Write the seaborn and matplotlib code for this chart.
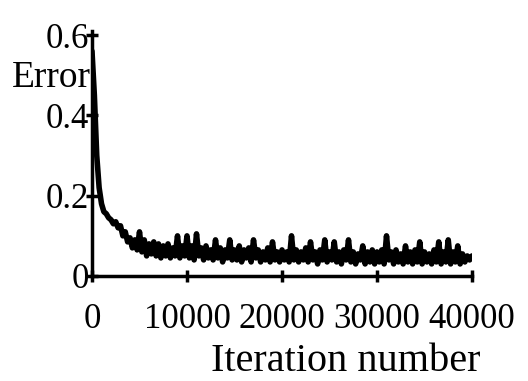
import numpy as np
import pandas as pd
import matplotlib
matplotlib.use("Agg")
import matplotlib.pyplot as plt
import seaborn as sns

step = 250
error = [
    0.56, 0.45, 0.30, 0.22, 0.18, 0.16, 0.155, 0.145, 0.14, 0.13,
    0.135, 0.12, 0.125, 0.10, 0.11, 0.085, 0.095, 0.07, 0.09, 0.065,
    0.11, 0.06, 0.09, 0.05, 0.08, 0.055, 0.085, 0.05, 0.08, 0.045,
    0.075, 0.05, 0.08, 0.045, 0.07, 0.05, 0.10, 0.045, 0.075, 0.05,
    0.10, 0.045, 0.075, 0.04, 0.105, 0.05, 0.07, 0.04, 0.075, 0.045,
    0.065, 0.04, 0.09, 0.045, 0.07, 0.035, 0.065, 0.045, 0.09, 0.04,
    0.065, 0.04, 0.075, 0.035, 0.065, 0.045, 0.07, 0.035, 0.09, 0.045,
    0.065, 0.035, 0.06, 0.04, 0.07, 0.035, 0.085, 0.04, 0.06, 0.035,
    0.065, 0.04, 0.06, 0.035, 0.10, 0.04, 0.065, 0.035, 0.06, 0.04,
    0.07, 0.035, 0.085, 0.04, 0.06, 0.03, 0.065, 0.04, 0.09, 0.035,
    0.06, 0.04, 0.085, 0.035, 0.06, 0.03, 0.065, 0.04, 0.09, 0.035,
    0.06, 0.03, 0.055, 0.04, 0.075, 0.03, 0.06, 0.035, 0.065, 0.03,
    0.06, 0.035, 0.065, 0.03, 0.10, 0.04, 0.06, 0.03, 0.065, 0.035,
    0.055, 0.03, 0.075, 0.035, 0.06, 0.03, 0.065, 0.035, 0.085, 0.03,
    0.06, 0.035, 0.055, 0.03, 0.065, 0.035, 0.085, 0.03, 0.06, 0.035,
    0.09, 0.03, 0.06, 0.035, 0.075, 0.03, 0.055, 0.035, 0.05, 0.04,
    0.05,
]
iterations = [i * step for i in range(len(error))]
x_ticks = [0, 10000, 20000, 30000, 40000]
y_ticks = [0, 0.2, 0.4, 0.6]
y_tick_labels = ["0", "0.2", "0.4", "0.6"]

df = pd.DataFrame({"Iteration": iterations, "Error": error})

sns.set_style("ticks")
plt.rcParams["font.family"] = ["Liberation Serif", "DejaVu Serif"]
plt.rcParams["text.color"] = "black"
plt.rcParams["axes.labelcolor"] = "black"

fig = plt.figure(figsize=(5.28, 3.81), dpi=100)
ax = fig.add_axes([92 / 528, 0.2756, 380 / 528, 0.643])

sns.lineplot(data=df, x="Iteration", y="Error", color="black", linewidth=4.0, ax=ax)

ax.set_xlim(0, 40000)
ax.set_ylim(0, 0.61)
ax.set_xticks(x_ticks)
ax.set_xticklabels([str(t) for t in x_ticks])
ax.set_yticks(y_ticks)
ax.set_yticklabels(y_tick_labels)

for s in ["top", "right"]:
    ax.spines[s].set_visible(False)
for s in ["left", "bottom"]:
    ax.spines[s].set_linewidth(2.5)
    ax.spines[s].set_color("black")
    ax.spines[s].set_zorder(5)

ax.tick_params(axis="x", direction="inout", length=9, width=2.5, labelsize=25, pad=15, colors="black")
ax.tick_params(axis="y", direction="inout", length=8, width=2.5, labelsize=25, pad=-2, colors="black")

ax.set_xlabel("Iteration number", fontsize=29, color="black", va="baseline")
ax.xaxis.set_label_coords(0.668, -0.388)
ax.set_ylabel("Error", fontsize=27, rotation=0, ha="left", va="baseline", color="black")
ax.yaxis.set_label_coords(-0.21, 0.771)

fig.savefig("out.png", dpi=100)
